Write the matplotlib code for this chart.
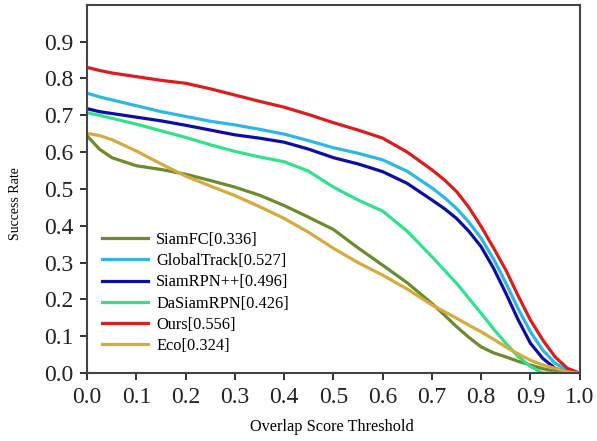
import matplotlib
matplotlib.use("Agg")
import matplotlib.pyplot as plt

plt.rcParams['font.family'] = ['Liberation Serif', 'DejaVu Serif']

# thresholds (finer steps where the curves bend hard)
x = [0.0, 0.025, 0.05, 0.1, 0.15, 0.2, 0.25, 0.3, 0.35, 0.4, 0.45, 0.5,
     0.55, 0.6, 0.65, 0.7, 0.725, 0.75, 0.775, 0.8, 0.825, 0.85, 0.875,
     0.9, 0.925, 0.95, 0.975, 1.0]

ours = [0.83, 0.822, 0.815, 0.805, 0.795, 0.787, 0.772, 0.755, 0.738, 0.722, 0.702, 0.68,
        0.66, 0.638, 0.60, 0.552, 0.525, 0.493, 0.45, 0.398, 0.34, 0.28, 0.21,
        0.144, 0.09, 0.044, 0.013, 0.0]
globaltrack = [0.76, 0.75, 0.742, 0.726, 0.71, 0.697, 0.684, 0.674, 0.662, 0.649, 0.631, 0.612,
               0.597, 0.579, 0.548, 0.503, 0.477, 0.447, 0.41, 0.366, 0.31, 0.245, 0.175,
               0.112, 0.0625, 0.027, 0.007, 0.0]
siamrpnpp = [0.718, 0.71, 0.705, 0.695, 0.685, 0.673, 0.66, 0.647, 0.638, 0.627, 0.608, 0.585,
             0.568, 0.547, 0.515, 0.47, 0.447, 0.42, 0.385, 0.343, 0.285, 0.217, 0.145,
             0.081, 0.04, 0.013, 0.002, 0.0]
dasiamrpn = [0.707, 0.70, 0.692, 0.676, 0.658, 0.64, 0.62, 0.602, 0.587, 0.574, 0.548, 0.505,
             0.47, 0.44, 0.385, 0.316, 0.28, 0.244, 0.203, 0.162, 0.12, 0.081, 0.045,
             0.018, 0.0, 0.0, 0.0, 0.0]
siamfc = [0.644, 0.608, 0.585, 0.563, 0.553, 0.54, 0.523, 0.505, 0.483, 0.455, 0.423, 0.39,
          0.34, 0.293, 0.245, 0.189, 0.158, 0.126, 0.097, 0.071, 0.055, 0.044, 0.032,
          0.022, 0.012, 0.005, 0.0, 0.0]
eco = [0.651, 0.645, 0.634, 0.603, 0.568, 0.535, 0.508, 0.482, 0.452, 0.42, 0.382, 0.339,
       0.30, 0.266, 0.228, 0.185, 0.167, 0.149, 0.13, 0.112, 0.092, 0.071, 0.052,
       0.035, 0.022, 0.013, 0.003, 0.0]

names = ['SiamFC[0.336]', 'GlobalTrack[0.527]', 'SiamRPN++[0.496]',
         'DaSiamRPN[0.426]', 'Ours[0.556]', 'Eco[0.324]']
series = [siamfc, globaltrack, siamrpnpp, dasiamrpn, ours, eco]
colors = ['#6a8c2c', '#2cb8e6', '#0c0ca8', '#2fe38c', '#e01b1b', '#d8a93c']

fig = plt.figure(figsize=(5.97, 4.41), dpi=100)
ax = fig.add_axes([0.146, 0.154, 0.825, 0.835])

for ys, c, n in zip(series, colors, names):
    ax.plot(x, ys, color=c, lw=2.3, label=n, solid_joinstyle='round')

ax.set_xlim(0, 1.0)
ax.set_ylim(0, 1.0)
ax.set_xticks([i / 10 for i in range(11)])
ax.set_yticks([i / 10 for i in range(10)])
ax.set_xticklabels(['%.1f' % (i / 10) for i in range(11)])
ax.set_yticklabels(['%.1f' % (i / 10) for i in range(10)])
ax.tick_params(direction='out', length=5, width=1.3, labelsize=17, pad=5,
               colors='#222222')
for s in ax.spines.values():
    s.set_linewidth(1.5)
    s.set_color('#444444')

ax.set_xlabel('Overlap Score Threshold', fontsize=11.7)
ax.set_ylabel('Success Rate', fontsize=10)
ax.xaxis.set_label_coords(0.496, -0.125)
ax.yaxis.set_label_coords(-0.132, 0.46)

ax.legend(loc='upper left', bbox_to_anchor=(0.01, 0.41), frameon=False,
          fontsize=11.8, handlelength=2.8, handletextpad=0.5, labelspacing=0.32,
          borderaxespad=0.2)

fig.savefig('out.png', dpi=100)
